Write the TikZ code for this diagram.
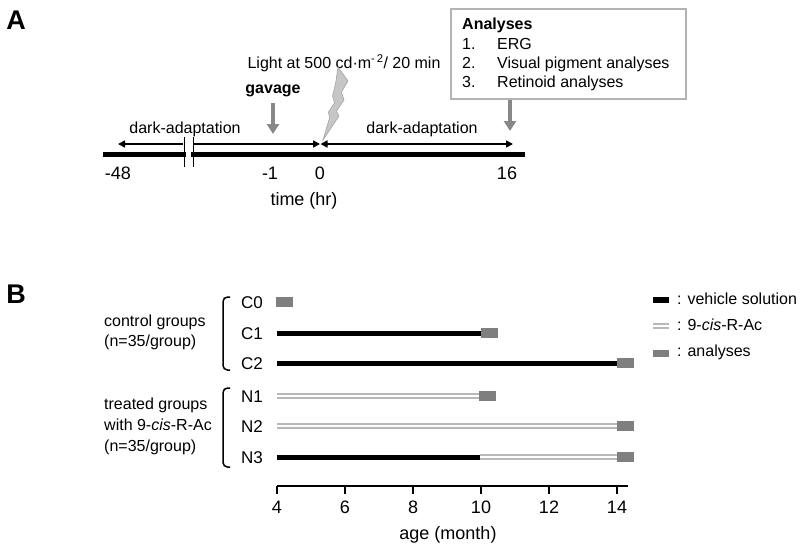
\documentclass[tikz,border=0pt]{standalone}
\usepackage{fontspec}
\setmainfont{Liberation Sans}
\usetikzlibrary{arrows.meta}
\definecolor{anagray}{HTML}{7F7F7F}
\definecolor{arrgray}{HTML}{888888}
\definecolor{boxborder}{HTML}{B3B3B3}
\definecolor{dblgray}{HTML}{B8B8B8}
\definecolor{boltfill}{HTML}{C6C6C6}
\definecolor{boltdraw}{HTML}{A4A4A4}
\tikzset{
  lbl/.style={inner sep=0pt, font=\fontsize{16}{19}\selectfont, text height=11.5pt, text depth=0pt},
  biglbl/.style={inner sep=0pt, font=\fontsize{18}{21}\selectfont, text height=12.9pt, text depth=0pt},
  rowlbl/.style={inner sep=0pt, font=\fontsize{17}{20}\selectfont, text height=12.2pt, text depth=0pt},
  panel/.style={inner sep=0pt, font=\fontsize{27}{30}\selectfont\bfseries},
  blkarrow/.style={line width=1.5pt, -{Triangle[length=7pt,width=7pt]}},
  grayarrow/.style={draw=arrgray, line width=4.5pt, -{Triangle[length=10pt,width=12pt]}},
  vehbar/.style={line width=5pt},
  drugbar/.style={draw=dblgray, line width=1.5pt, double=white, double distance=2.2pt},
  anabox/.style={fill=anagray, draw=none, minimum width=17pt, minimum height=10pt, inner sep=0pt},
  brack/.style={line width=1.5pt, rounded corners=4.5pt},
}
\begin{document}
\begin{tikzpicture}[x=1pt,y=-1pt]
\useasboundingbox (0,0) rectangle (800,550);

% ---------------- Panel A ----------------
\node[panel] (labA) at (16,20) {A};

\coordinate (tlL) at (103,154.5);
\coordinate (tlB1) at (186,154.5);
\coordinate (tlB2) at (191,154.5);
\coordinate (tlR) at (525,154.5);
\draw[line width=4.5pt] (tlL) -- (tlB1);
\draw[line width=4.5pt] (tlB2) -- (tlR);
\coordinate (brk1t) at (184,137);
\coordinate (brk1b) at (184,167);
\coordinate (brk2t) at (193,137);
\coordinate (brk2b) at (193,167);
\draw[line width=1pt] (brk1t) -- (brk1b);
\draw[line width=1pt] (brk2t) -- (brk2b);

\coordinate (aL1) at (183,144);
\coordinate (aL2) at (118,144);
\coordinate (aM1) at (194,144);
\coordinate (aM2) at (320,144);
\coordinate (aR1) at (320.5,144);
\coordinate (aR2) at (513,144);
\draw[blkarrow] (aL1) -- (aL2);
\draw[blkarrow] (aM1) -- (aM2);
\draw[line width=1.5pt, {Triangle[length=7pt,width=7pt]}-{Triangle[length=7pt,width=7pt]}] (aR1) -- (aR2);

\node[lbl] (da1) at (185,128) {dark-adaptation};
\node[lbl] (da2) at (422,128) {dark-adaptation};
\node[biglbl] (tm48) at (118,173) {-48};
\node[biglbl] (tm1) at (270,173) {-1};
\node[biglbl] (t0) at (320,173) {0};
\node[biglbl] (t16) at (507,173) {16};
\node[biglbl] (tax) at (304,199) {time (hr)};

\node[lbl, font=\fontsize{16}{19}\selectfont\bfseries] (gav) at (273,88) {gavage};
\coordinate (gavS) at (273,103);
\coordinate (gavE) at (273,134);
\draw[grayarrow] (gavS) -- (gavE);

\node[lbl] (light) at (344,63) {Light at 500 cd·m\textsuperscript{-\,2}/ 20 min};
\draw[fill=boltfill, draw=boltdraw, line width=0.6pt, line join=miter]
  (338,67) -- (348,81) -- (341.5,92) -- (344,100) -- (336.5,111) -- (339,116) -- (323,140)
  -- (329.5,118) -- (328.5,112) -- (334.5,103) -- (332.5,96) -- (335.5,84) -- cycle;

\node[draw=boxborder, line width=2pt, minimum width=235pt, minimum height=90pt, anchor=north west, inner sep=0pt] (anbox) at (450,8) {};
\node[lbl, anchor=west, font=\fontsize{16}{19}\selectfont\bfseries] (anh) at (462,24) {Analyses};
\node[lbl, anchor=west] (n1) at (462,44) {1.};
\node[lbl, anchor=west] (i1) at (497,44) {ERG};
\node[lbl, anchor=west] (n2) at (462,63) {2.};
\node[lbl, anchor=west] (i2) at (497,63) {Visual pigment analyses};
\node[lbl, anchor=west] (n3) at (462,82) {3.};
\node[lbl, anchor=west] (i3) at (497,82) {Retinoid analyses};
\coordinate (anE) at (510,131);
\draw[grayarrow] (anbox.south -| anE) -- (anE);

% ---------------- Panel B ----------------
\node[panel] (labB) at (16,294) {B};

% group labels
\node[lbl, anchor=west] (cg1) at (104,321) {control groups};
\node[lbl, anchor=west] (cg2) at (104,341) {(n=35/group)};
\node[lbl, anchor=west] (tg1) at (104,404) {treated groups};
\node[lbl, anchor=west] (tg2) at (104,425) {with 9-\textit{cis}-R-Ac};
\node[lbl, anchor=west] (tg3) at (104,446) {(n=35/group)};

% brackets
\coordinate (bc1) at (230,297);
\coordinate (bc2) at (223,297);
\coordinate (bc3) at (223,370);
\coordinate (bc4) at (230,370);
\draw[brack] (bc1) -- (bc2) -- (bc3) -- (bc4);
\coordinate (bt1) at (230,388);
\coordinate (bt2) at (223,388);
\coordinate (bt3) at (223,467);
\coordinate (bt4) at (230,467);
\draw[brack] (bt1) -- (bt2) -- (bt3) -- (bt4);

% row labels
\node[rowlbl] (C0) at (252,302) {C0};
\node[rowlbl] (C1) at (252,333) {C1};
\node[rowlbl] (C2) at (252,363) {C2};
\node[rowlbl] (N1) at (252,396) {N1};
\node[rowlbl] (N2) at (252,426) {N2};
\node[rowlbl] (N3) at (252,457) {N3};

% bars
\coordinate (c1s) at (277,333); \coordinate (c1e) at (481,333);
\coordinate (c2s) at (277,363); \coordinate (c2e) at (617,363);
\coordinate (n1s) at (277,396); \coordinate (n1e) at (479,396);
\coordinate (n2s) at (277,426); \coordinate (n2e) at (617,426);
\coordinate (n3s) at (277,457); \coordinate (n3m) at (480,457); \coordinate (n3e) at (617,457);
\draw[vehbar] (c1s) -- (c1e);
\draw[vehbar] (c2s) -- (c2e);
\draw[drugbar] (n1s) -- (n1e);
\draw[drugbar] (n2s) -- (n2e);
\draw[vehbar] (n3s) -- (n3m);
\draw[drugbar] (n3m) -- (n3e);

% analyses boxes
\node[anabox] (bC0) at (284.5,302) {};
\node[anabox] (bC1) at (489,333) {};
\node[anabox] (bC2) at (625.5,363) {};
\node[anabox] (bN1) at (487.5,396) {};
\node[anabox] (bN2) at (625.5,426) {};
\node[anabox] (bN3) at (625.5,457) {};

% axis
\coordinate (ax0) at (277,486);
\coordinate (ax1) at (628,486);
\draw[line width=1.5pt] (ax0) -- (ax1);
\foreach \v [count=\i from 0] in {4,6,8,10,12,14} {
  \coordinate (tk\i) at (277+68*\i,486);
  \coordinate (tkb\i) at (277+68*\i,494);
  \draw[line width=1.5pt] (tk\i) -- (tkb\i);
  \node[biglbl] (tl\i) at (277+68*\i,507) {\v};
}
\node[biglbl] (agex) at (448,533) {age (month)};

% legend
\node[fill=black, minimum width=16pt, minimum height=6pt, inner sep=0pt] (lg1) at (661,300) {};
\coordinate (lg2a) at (653,326); \coordinate (lg2b) at (669,326);
\draw[drugbar] (lg2a) -- (lg2b);
\node[fill=anagray, minimum width=16pt, minimum height=7pt, inner sep=0pt] (lg3) at (661,353.5) {};
\node[lbl, anchor=west] (lt1) at (677,299) {: vehicle solution};
\node[lbl, anchor=west] (lt2) at (677,325) {: 9-\textit{cis}-R-Ac};
\node[lbl, anchor=west] (lt3) at (677,351) {: analyses};
\end{tikzpicture}
\end{document}
